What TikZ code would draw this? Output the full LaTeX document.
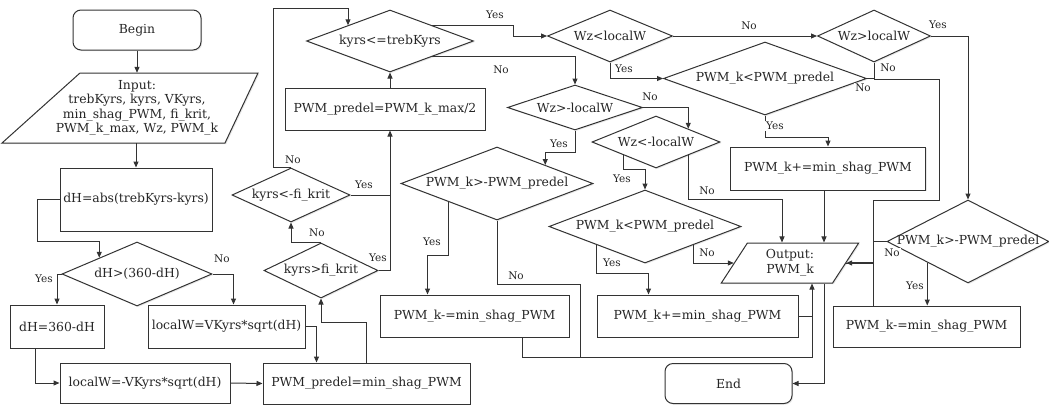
\documentclass[tikz,border=0pt]{standalone}
\usepackage{fontspec}
\setmainfont{DejaVu Serif}
\usetikzlibrary{shapes.geometric,arrows.meta,shadows}
\colorlet{fline}{black!80}

\begin{document}
\begin{tikzpicture}[
        x=1pt, y=-1pt,
        every node/.append style={text=black!85, font=\fontsize{12.4}{14.5}\selectfont},
        base/.style={draw=fline, line width=1pt, fill=white, inner sep=0pt, align=center,
            drop shadow={opacity=0.18, shadow xshift=1.2pt, shadow yshift=-1.2pt}},
        process/.style={base, rectangle},
        terminal/.style={base, rectangle, rounded corners=8pt},
        decision/.style={base, diamond},
        io/.style={base, trapezium, trapezium stretches=true},
        arr/.style={draw=fline, line width=1pt, -{Triangle[length=6pt,width=5pt]}},
        link/.style={draw=fline, line width=1pt},
        lbl/.style={font=\fontsize{10.5}{12}\selectfont, fill=white, inner sep=1pt}
    ]
    \useasboundingbox (0,0) rectangle (1049,407);

    \node[terminal, minimum width=128, minimum height=40] (begin) at (137,30) {Begin};
    \coordinate (inc) at (137,108);
    \draw[base] ([shift={(-57,-35)}]inc)
        -- ([shift={(121,-35)}]inc)
        -- ([shift={(88,35)}]inc)
        -- ([shift={(-135,35)}]inc)
        -- cycle
    ;
    \node[align=center, inner sep=0pt, minimum height=70] (input) at (inc)
        {Input:\\trebKyrs, kyrs, VKyrs,\\min\_shag\_PWM, fi\_krit,\\PWM\_k\_max, Wz, PWM\_k};
    \node[process, minimum width=152, minimum height=63] (dh) at (136,199.5) {dH=abs(trebKyrs-kyrs)};
    \node[decision, minimum width=150, minimum height=64, label=center:{dH>(360-dH)}] (dhd) at (137,274) {};
    \node[process, minimum width=94, minimum height=43] (dhm) at (57,326.5) {dH=360-dH};
    \node[process, minimum width=157, minimum height=43] (lw) at (226.5,326.5) {localW=VKyrs*sqrt(dH)};
    \node[process, minimum width=170, minimum height=40] (lwm) at (145,383) {localW=-VKyrs*sqrt(dH)};
    \node[process, minimum width=207, minimum height=41] (pp) at (366.5,383.5) {PWM\_predel=min\_shag\_PWM};
    \node[decision, minimum width=114, minimum height=55, label=center:{kyrs>fi\_krit}] (kfk) at (321,270.5) {};
    \node[decision, minimum width=118, minimum height=54, label=center:{kyrs<-fi\_krit}] (kfc) at (291,195) {};
    \node[process, minimum width=200, minimum height=42] (ppm) at (385,109) {PWM\_predel=PWM\_k\_max/2};
    \node[decision, minimum width=167, minimum height=62, label=center:{kyrs<=trebKyrs}] (kt) at (390,41) {};
    \node[decision, minimum width=125, minimum height=52, label=center:{Wz<localW}] (wzl) at (610,36) {};
    \node[decision, minimum width=113, minimum height=52, label=center:{Wz>localW}] (wzg) at (874,36) {};
    \node[decision, minimum width=203, minimum height=73, label=center:{PWM\_k<PWM\_predel}] (pkl1) at (765,78.5) {};
    \node[process, minimum width=195, minimum height=43] (pkp1) at (828,168.5) {PWM\_k+=min\_shag\_PWM};
    \node[decision, minimum width=135, minimum height=45, label=center:{Wz>-localW}] (wzm) at (575,107.5) {};
    \node[decision, minimum width=128, minimum height=52, label=center:{Wz<-localW}] (wzn) at (656,142) {};
    \node[decision, minimum width=192, minimum height=73, label=center:{PWM\_k>-PWM\_predel}] (pkg1) at (497,183.5) {};
    \node[process, minimum width=189, minimum height=42] (pkm1) at (474.5,316) {PWM\_k-=min\_shag\_PWM};
    \node[decision, minimum width=192, minimum height=73, label=center:{PWM\_k<PWM\_predel}] (pkl2) at (645,226.5) {};
    \node[process, minimum width=201, minimum height=42] (pkp2) at (697.5,316) {PWM\_k+=min\_shag\_PWM};
    \node[io, trapezium left angle=61, trapezium right angle=119,
        minimum width=138, minimum height=40] (out) at (790,263) {Output:\\PWM\_k};
    \node[terminal, minimum width=127, minimum height=40] (end) at (728.5,383.5) {End};
    \node[decision, minimum width=162, minimum height=83, label=center:{PWM\_k>-PWM\_predel}] (pkg2) at (968,241.5) {};
    \node[process, minimum width=187, minimum height=41] (pkm2) at (926.5,326.5) {PWM\_k-=min\_shag\_PWM};

    \draw[arr] (begin.south) -- (begin.south |- input.north);
    \draw[arr] (dh.north |- input.south) -- (dh.north);
    \draw[arr] (dh.west) -- ++(-22,0)
        |- (dhd.north west |- dhd.north)
        -- (dhd.north west)
    ;
    \draw[arr] (dhd.west) -| (dhm.north);
    \draw[arr] (dhd.east) -| ([xshift=7]lw.north);
    \draw[arr] ([xshift=-22]dhm.south) |- (lwm.west);
    \draw[arr] (lw.east) -| ([xshift=-50]pp.north);
    \draw[arr] (lwm.east) -- (pp.west);
    \draw[arr] (pp.north) -- ++(0,-40) -| (kfk.south);
    \draw[arr] (kfk.east) -| (kt.south |- ppm.south);
    \draw[arr] (kfk.north) -| (kfc.south);
    \draw[link] (kfc.east) -- (kfc.east -| kt.south);
    \draw[arr] (kfc.north) -- ++(-18,0)
        |- ([yshift=17]kt.north west)
        -- (kt.north west)
    ;
    \draw[arr] (kt.south |- ppm.north) -- (kt.south);
    \draw[arr] (kt.north east) -- ++(81,0) |- (wzl.west);
    \draw[arr] (kt.south east) -| (wzm.north);
    \draw[arr] (wzl.east) -- (wzg.west);
    \draw[arr] (wzl.south) |- (pkl1.west);
    \draw[arr] (pkl1.south) -- ++(0,22) -| (pkp1.north);
    \draw[link] (pkl1.east) -- (pkl1.east -| wzg.south);
    \draw[link] (wzg.south) -- ++(0,17)
        -- ++(65,0)
        -- ++(0,121)
        -- ++(-66,0)
        -- ++(0,63)
    ;
    \draw[arr, line width=1.4pt] (out.east -| pkm2.north west) ++(41,0) -- (out.east);
    \draw[arr] (wzg.east) -| (pkg2.north);
    \draw[link] (pkg2.west) -- ++(-13,0) |- (out.east);
    \draw[arr] (pkg2.south west) -- (pkg2.south west |- pkm2.north);
    \draw[link] ([xshift=-53]pkm2.north) |- (out.east);
    \draw[arr] ([xshift=-4]pkp1.south) -- ([xshift=-4]pkp1.south |- out.north);
    \draw[arr] ([xshift=34]out.south) |- (end.east);
    \draw[arr] (wzm.south) -- ++(0,22) -| (pkg1.north east);
    \draw[arr] (wzm.east) -| (wzn.north east);
    \draw[arr] (wzn.south west) -- ++(0,14) -| (pkl2.north);
    \draw[arr] (wzn.south east) -- ++(0,44) -| ([xshift=-8]out.north);
    \draw[arr] (pkl2.south west) -- ++(0,28) -| ([xshift=-49]pkp2.north);
    \draw[arr] (pkl2.south east) |- (out.west);
    \draw[link] (pkp2.east) -- ++(14,0);
    \draw[arr] ([xshift=48]pkm1.south) -- ++(0,20) -| ([xshift=22]out.south);
    \draw[link] (pkg1.south) -- ++(0,64)
        -- ++(83,0)
        -- ++(0,73)
    ;
    \draw[arr] (pkg1.south west) -- ++(0,53) -| ([xshift=-47]pkm1.north);

    \node[lbl] (ydh) at (44,279) {Yes};
    \node[lbl] (ndh) at (222,259) {No};
    \node[lbl] (ykfc) at (364,185) {Yes};
    \node[lbl] (nkfc) at (293,160) {No};
    \node[lbl] (ykfk) at (378,258) {Yes};
    \node[lbl] (nkfk) at (317,233) {No};
    \node[lbl] (ykt) at (495,15) {Yes};
    \node[lbl] (nkt) at (501,70) {No};
    \node[lbl] (nwzl) at (749,26) {No};
    \node[lbl] (ywzl) at (624,69) {Yes};
    \node[lbl] (nwzm) at (650,97) {No};
    \node[lbl] (ywzm) at (559,144) {Yes};
    \node[lbl] (ywzn) at (622,179) {Yes};
    \node[lbl] (nwzn) at (707,191) {No};
    \node[lbl] (ypkl1) at (775,126) {Yes};
    \node[lbl] (npkl1) at (863,88) {No};
    \node[lbl] (nwzg) at (888,68) {No};
    \node[lbl] (ywzg) at (938,25) {Yes};
    \node[lbl] (npkg2) at (892,253) {No};
    \node[lbl] (ypkg2) at (915,286) {Yes};
    \node[lbl] (ypkl2) at (612,263) {Yes};
    \node[lbl] (npkl2) at (707,253) {No};
    \node[lbl] (ypkg1) at (432,242) {Yes};
    \node[lbl] (npkg1) at (516,276) {No};
\end{tikzpicture}
\end{document}
